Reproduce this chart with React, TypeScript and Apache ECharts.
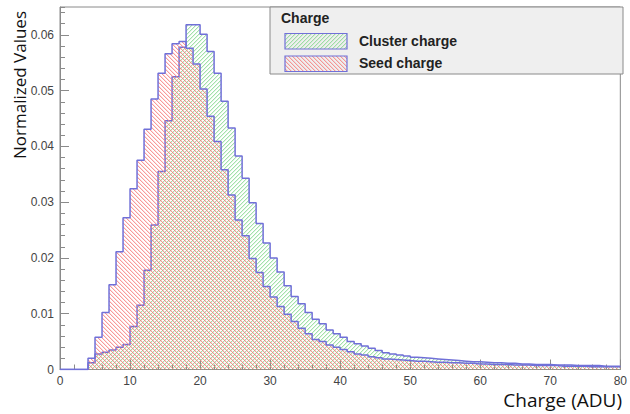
import React, { useEffect, useRef } from 'react';
import * as echarts from 'echarts';

// Histogram: 80 bins of width 1 ADU, from 0 to 80
const binStart = 0;
const binWidth = 1;

const seedCharge = [
  0, 0, 0, 0, 0.0020, 0.0058, 0.0102, 0.0152, 0.0211, 0.0272,
  0.0324, 0.0375, 0.0431, 0.0485, 0.0531, 0.0566, 0.0584, 0.0588, 0.0576, 0.0548,
  0.0503, 0.0454, 0.0409, 0.0358, 0.0313, 0.0268, 0.0240, 0.0199, 0.0174, 0.0149,
  0.0130, 0.0113, 0.0099, 0.0086, 0.0074, 0.0064, 0.0054, 0.0050, 0.0044, 0.0040,
  0.0036, 0.0032, 0.0028, 0.0026, 0.0023, 0.0021, 0.0019, 0.0018, 0.0017, 0.0016,
  0.0015, 0.0015, 0.0014, 0.0013, 0.0013, 0.0012, 0.0012, 0.0011, 0.0011, 0.0010,
  0.0010, 0.0009, 0.0009, 0.0009, 0.0008, 0.0008, 0.0008, 0.0007, 0.0007, 0.0007,
  0.0007, 0.0006, 0.0006, 0.0006, 0.0006, 0.0005, 0.0005, 0.0005, 0.0005, 0.0005,
];

const clusterCharge = [
  0, 0, 0, 0, 0.0012, 0.0028, 0.0031, 0.0035, 0.0040, 0.0045,
  0.0077, 0.0115, 0.0178, 0.0259, 0.0355, 0.0446, 0.0525, 0.0578, 0.0618, 0.0618,
  0.0601, 0.0570, 0.0531, 0.0481, 0.0433, 0.0383, 0.0343, 0.0299, 0.0262, 0.0227,
  0.0200, 0.0175, 0.0150, 0.0131, 0.0118, 0.0102, 0.0090, 0.0082, 0.0071, 0.0064,
  0.0058, 0.0050, 0.0046, 0.0042, 0.0038, 0.0034, 0.0030, 0.0028, 0.0026, 0.0024,
  0.0022, 0.0021, 0.0020, 0.0019, 0.0018, 0.0017, 0.0016, 0.0015, 0.0014, 0.0014,
  0.0013, 0.0012, 0.0012, 0.0011, 0.0011, 0.0010, 0.0010, 0.0009, 0.0009, 0.0009,
  0.0008, 0.0008, 0.0008, 0.0007, 0.0007, 0.0007, 0.0007, 0.0006, 0.0006, 0.0006,
];

const xMin = 0;
const xMax = 80;
const xStep = 10;
const yMin = 0;
const yMax = 0.065;
const yStep = 0.01;
const yMinorStep = 0.002;

const legendTitle = 'Charge';
const seriesNames = ['Cluster charge', 'Seed charge'];
const xTitle = 'Charge (ADU)';
const yTitle = 'Normalized Values';

function toSteps(values: number[]) {
  const pts: number[][] = values.map((v, i) => [binStart + i * binWidth, v]);
  pts.push([binStart + values.length * binWidth, values[values.length - 1]]);
  return pts;
}

function makeHatch(rgb: number[], dir: number, period = 4) {
  const c = document.createElement('canvas');
  c.width = period;
  c.height = period;
  const ctx = c.getContext('2d')!;
  const img = ctx.createImageData(period, period);
  for (let y = 0; y < period; y++) {
    for (let x = 0; x < period; x++) {
      const d = ((((dir > 0 ? x + y : x - y) % period) + period) % period);
      const a = d === 0 ? 190 : d === 1 ? 60 : 0;
      const i = (y * period + x) * 4;
      img.data[i] = rgb[0];
      img.data[i + 1] = rgb[1];
      img.data[i + 2] = rgb[2];
      img.data[i + 3] = a;
    }
  }
  ctx.putImageData(img, 0, 0);
  return { image: c.toDataURL(), repeat: 'repeat', imageWidth: period, imageHeight: period } as any;
}

export default function App() {
  const ref = useRef<HTMLDivElement>(null);

  useEffect(() => {
    const chart = echarts.init(ref.current!, null, { renderer: 'svg' });
    const greenHatch = makeHatch([130, 215, 140], 1);
    const redHatch = makeHatch([245, 120, 120], -1);
    const outline = '#7070d8';
    const frame = '#8a8a8a';
    const labelStyle = { color: '#444', fontFamily: '"Liberation Sans", Arial, sans-serif', fontSize: 12 };

    chart.setOption({
      animation: false,
      backgroundColor: '#fff',
      grid: {
        left: 60, right: 7, top: 7, bottom: 44.5,
        show: true, borderColor: frame, borderWidth: 1, backgroundColor: 'transparent',
      },
      xAxis: {
        type: 'value', min: xMin, max: xMax, interval: xStep,
        axisLine: { lineStyle: { color: frame } },
        axisTick: { inside: true, length: 10, lineStyle: { color: frame } },
        minorTick: { show: true, splitNumber: 5, length: 5, lineStyle: { color: frame } },
        axisLabel: { ...labelStyle, margin: 5 },
        splitLine: { show: false },
      },
      yAxis: [
        {
          type: 'value', min: yMin, max: yMax, interval: yStep, position: 'left',
          axisLine: { show: true, lineStyle: { color: frame } },
          axisTick: { show: true, inside: true, length: 9, lineStyle: { color: frame } },
          axisLabel: { ...labelStyle, margin: 6, showMaxLabel: false },
          splitLine: { show: false },
        },
        {
          type: 'value', min: yMin, max: yMax, interval: yMinorStep, position: 'left',
          axisLine: { show: false },
          axisTick: { show: true, inside: true, length: 5, lineStyle: { color: frame } },
          axisLabel: { show: false },
          splitLine: { show: false },
        },
      ],
      series: [
        {
          name: seriesNames[0], type: 'line', step: 'end', yAxisIndex: 0,
          data: toSteps(clusterCharge), showSymbol: false, symbol: 'none',
          lineStyle: { color: outline, width: 1.5 },
          areaStyle: { color: greenHatch, opacity: 1 },
          z: 2,
        },
        {
          name: seriesNames[1], type: 'line', step: 'end', yAxisIndex: 0,
          data: toSteps(seedCharge), showSymbol: false, symbol: 'none',
          lineStyle: { color: outline, width: 1.5 },
          areaStyle: { color: redHatch, opacity: 1 },
          z: 3,
        },
      ],
      graphic: [
        {
          type: 'text', x: 19, y: 85, rotation: Math.PI / 2, z: 100,
          style: { text: yTitle, font: '17px "Open Sans", sans-serif', fill: '#111', align: 'center', verticalAlign: 'middle' },
        },
        {
          type: 'text', x: 622, y: 400, z: 100,
          style: { text: xTitle, font: '19px "Open Sans", sans-serif', fill: '#111', align: 'right', verticalAlign: 'middle' },
        },
        {
          type: 'group', z: 100,
          children: [
            { type: 'rect', shape: { x: 270, y: 7, width: 353, height: 67 }, style: { fill: '#efefef', stroke: '#8a8a8a', lineWidth: 1 }, z: 100 },
            { type: 'text', x: 281, y: 18, z: 101, style: { text: legendTitle, font: 'bold 14px "Liberation Sans", Arial, sans-serif', fill: '#222', align: 'left', verticalAlign: 'middle' } },
            { type: 'rect', shape: { x: 285, y: 33.5, width: 62, height: 15.5 }, style: { fill: greenHatch, stroke: outline, lineWidth: 1.2 }, z: 101 },
            { type: 'text', x: 359, y: 41, z: 101, style: { text: seriesNames[0], font: 'bold 14px "Liberation Sans", Arial, sans-serif', fill: '#222', align: 'left', verticalAlign: 'middle' } },
            { type: 'rect', shape: { x: 285, y: 56, width: 62, height: 15.5 }, style: { fill: redHatch, stroke: outline, lineWidth: 1.2 }, z: 101 },
            { type: 'text', x: 359, y: 63, z: 101, style: { text: seriesNames[1], font: 'bold 14px "Liberation Sans", Arial, sans-serif', fill: '#222', align: 'left', verticalAlign: 'middle' } },
          ],
        },
      ],
    });

    return () => chart.dispose();
  }, []);

  return (
    <div
      ref={ref}
      style={{ position: 'absolute', left: 0, top: 0, width: 630, height: 414, background: '#fff' }}
    />
  );
}
